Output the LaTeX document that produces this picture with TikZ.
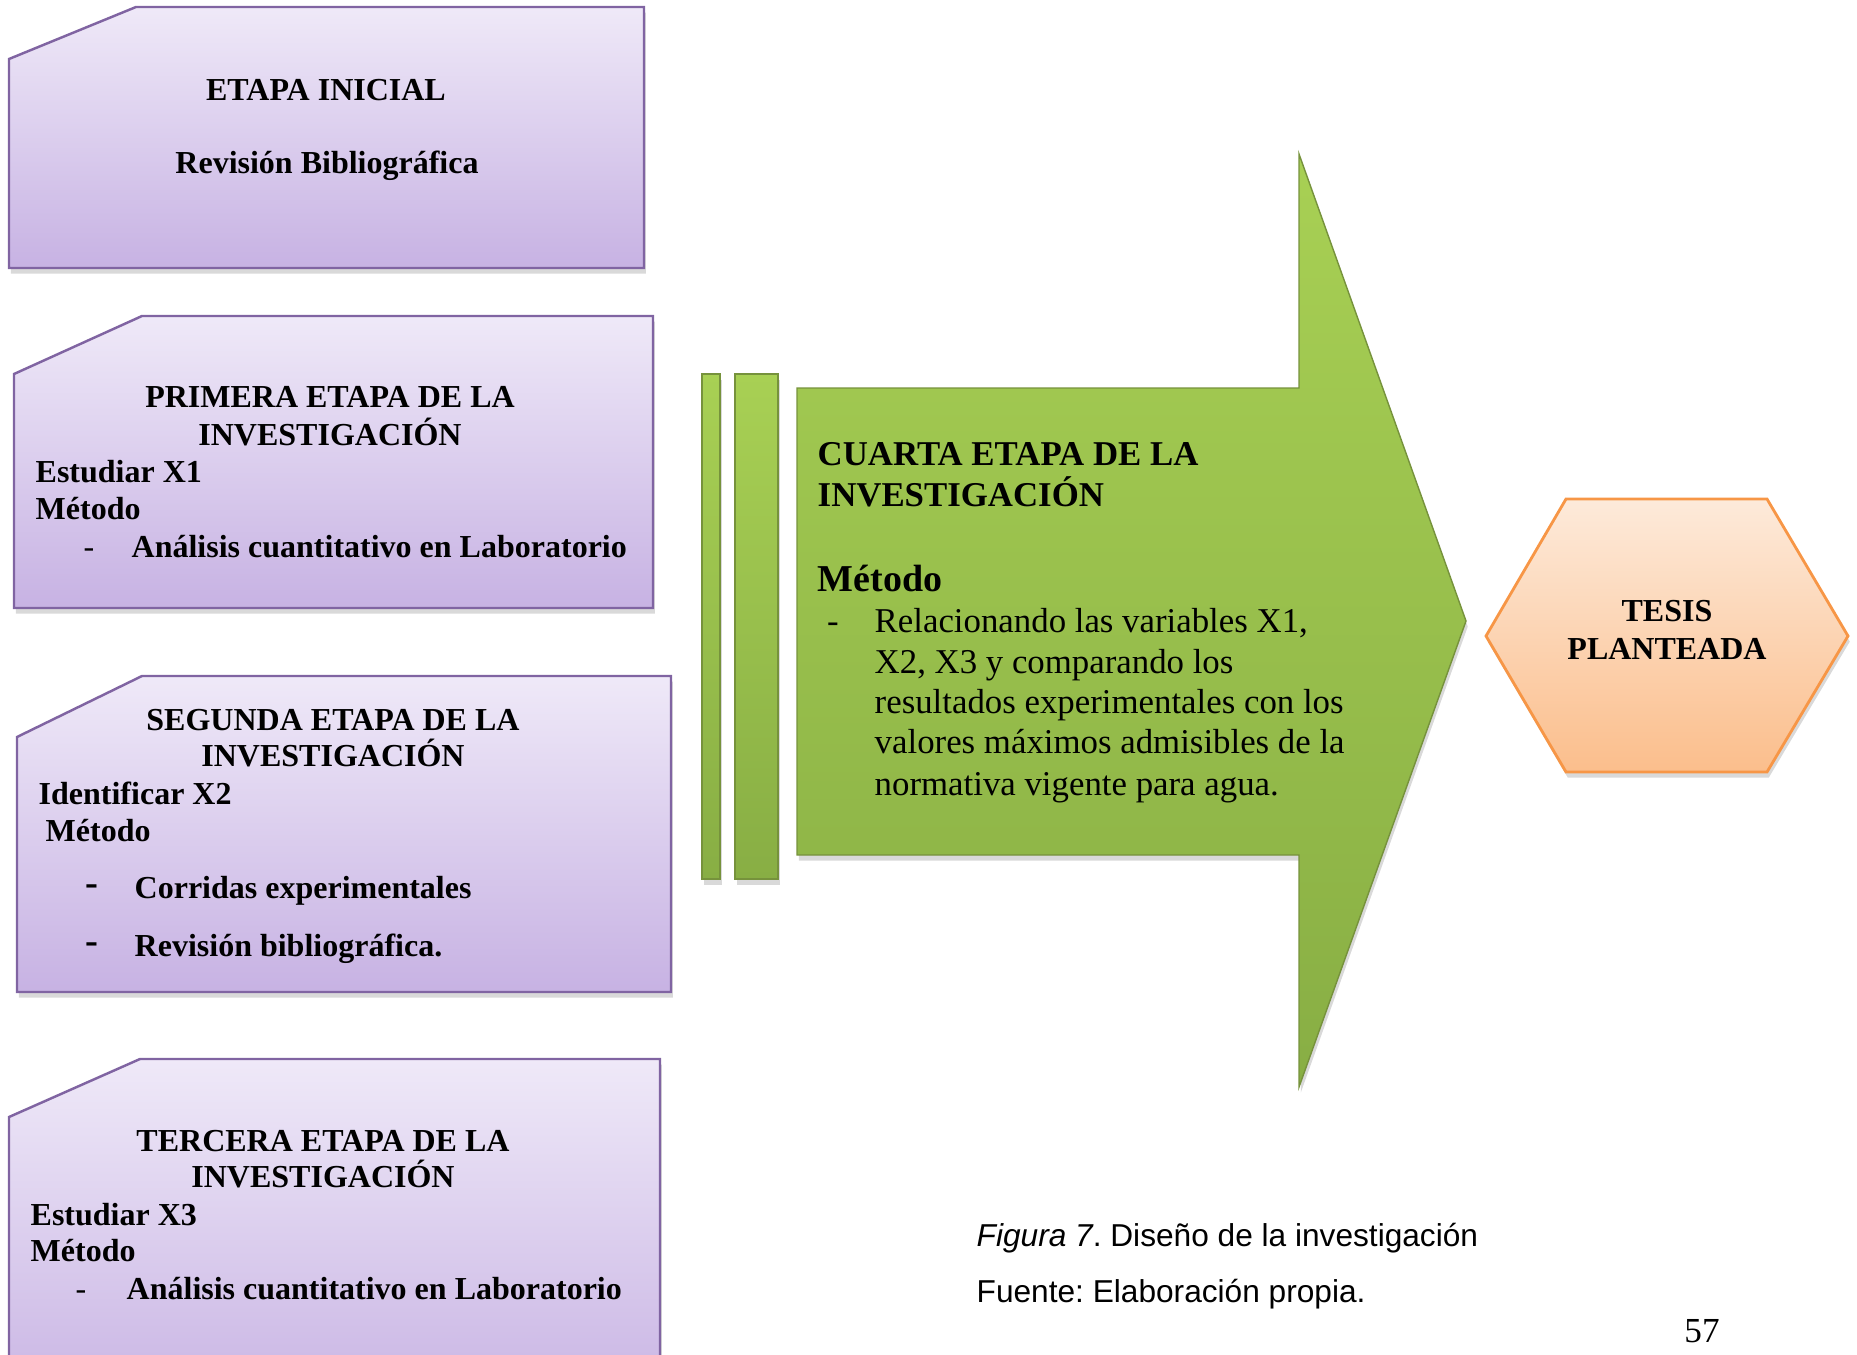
\documentclass[tikz,border=0pt]{standalone}
\usepackage{fontspec}
\setmainfont{Liberation Serif}
\newfontfamily\capsans{Liberation Sans}
\usetikzlibrary{shadows}
\frenchspacing
\definecolor{boxtop}{RGB}{239,233,248}
\definecolor{boxbot}{RGB}{199,178,227}
\definecolor{boxline}{RGB}{128,100,162}
\definecolor{grtop}{RGB}{168,208,84}
\definecolor{grbot}{RGB}{136,174,68}
\definecolor{grline}{RGB}{118,146,60}
\definecolor{hextop}{RGB}{253,234,218}
\definecolor{hexbot}{RGB}{251,190,140}
\definecolor{hexline}{RGB}{247,150,70}
\begin{document}
\begin{tikzpicture}[x=0.01cm,y=-0.01cm,
  softshadow/.style={drop shadow={shadow xshift=0.5pt,shadow yshift=-1.6pt,opacity=0.3}},
  stagebox/.style={draw=boxline,line width=0.7pt,top color=boxtop,bottom color=boxbot,softshadow},
  greenshape/.style={draw=grline,line width=0.4pt,top color=grtop,bottom color=grbot,softshadow},
  hexshape/.style={draw=hexline,line width=0.8pt,top color=hextop,bottom color=hexbot,softshadow},
  bt/.style={inner sep=0pt,font=\fontsize{9.1}{11}\selectfont\bfseries},
  btc/.style={bt,anchor=base},
  btl/.style={bt,anchor=base west},
  arrtxt/.style={inner sep=0pt,anchor=base west,font=\fontsize{9.9}{11.5}\selectfont},
  arrbold/.style={arrtxt,font=\fontsize{9.9}{11.5}\selectfont\bfseries},
  captxt/.style={inner sep=0pt,anchor=base west,font=\capsans\fontsize{9}{11}\selectfont}
]
\useasboundingbox (0,0) rectangle (1857,1354);
\clip (0,0) rectangle (1857,1354);

% stage boxes
\path[stagebox] (9,59) -- (136,7) -- (644,7) -- (644,268) -- (9,268) -- cycle;
\path[stagebox] (14,374) -- (142,316) -- (653,316) -- (653,608) -- (14,608) -- cycle;
\path[stagebox] (17,737) -- (142,676) -- (671,676) -- (671,992) -- (17,992) -- cycle;
\path[stagebox] (9,1117) -- (140,1059) -- (660,1059) -- (660,1420) -- (9,1420) -- cycle;

% green bars and arrow
\path[greenshape] (702,374) rectangle (720,879);
\path[greenshape] (735,374) rectangle (778,879);
\path[greenshape] (797,388) -- (1299,388) -- (1299,154) -- (1466,621) -- (1299,1087) -- (1299,855) -- (797,855) -- cycle;

% hexagon
\path[hexshape] (1486,636) -- (1566,499) -- (1767,499) -- (1848,636) -- (1767,772) -- (1566,772) -- cycle;

% box 1
\node[btc] (b1a) at (326,100) {ETAPA INICIAL};
\node[btc] (b1b) at (327,173) {Revisión Bibliográfica};

% box 2
\node[btc] (b2a) at (330,407) {PRIMERA ETAPA DE LA};
\node[btc] (b2b) at (330,445) {INVESTIGACIÓN};
\node[btl] (b2c) at (35,482) {Estudiar X1};
\node[btl] (b2d) at (35,519) {Método};
\node[inner sep=0pt,anchor=base,font=\fontsize{9.1}{11}\selectfont] (b2e) at (89,557) {-};
\node[btl] (b2f) at (131,557) {Análisis cuantitativo en Laboratorio};

% box 3
\node[btc] (b3a) at (333,730) {SEGUNDA ETAPA DE LA};
\node[btc] (b3b) at (333,766) {INVESTIGACIÓN};
\node[btl] (b3c) at (38,804) {Identificar X2};
\node[btl] (b3d) at (45,841) {Método};
\node[btc,font=\fontsize{11}{12}\selectfont\bfseries] (b3e) at (92,895) {-};
\node[btl] (b3f) at (134,898) {Corridas experimentales};
\node[btc,font=\fontsize{11}{12}\selectfont\bfseries] (b3g) at (92,953) {-};
\node[btl] (b3h) at (134,956) {Revisión bibliográfica.};

% box 4
\node[btc] (b4a) at (323,1151) {TERCERA ETAPA DE LA};
\node[btc] (b4b) at (323,1187) {INVESTIGACIÓN};
\node[btl] (b4c) at (30,1225) {Estudiar X3};
\node[btl] (b4d) at (30,1261) {Método};
\node[inner sep=0pt,anchor=base,font=\fontsize{9.1}{11}\selectfont] (b4e) at (81,1299) {-};
\node[btl] (b4f) at (126,1299) {Análisis cuantitativo en Laboratorio};

% arrow text
\node[arrbold] (a1) at (817,465) {CUARTA ETAPA DE LA};
\node[arrbold] (a2) at (817,506) {INVESTIGACIÓN};
\node[arrtxt,font=\fontsize{10.8}{12}\selectfont\bfseries] (a3) at (817,591) {Método};
\node[inner sep=0pt,anchor=base,font=\fontsize{9.9}{11.5}\selectfont] (a4) at (833,632) {-};
\node[arrtxt] (a5) at (874,632) {Relacionando las variables X1,};
\node[arrtxt] (a6) at (874,673) {X2, X3 y comparando los};
\node[arrtxt] (a7) at (874,713) {resultados experimentales con los};
\node[arrtxt] (a8) at (874,753) {valores máximos admisibles de la};
\node[arrtxt] (a9) at (874,795) {normativa vigente para agua.};

% hexagon text
\node[btc] (h1) at (1667,621) {TESIS};
\node[btc] (h2) at (1667,659) {PLANTEADA};

% caption
\node[captxt] (c1) at (976,1246) {\textit{Figura 7}. Diseño de la investigación};
\node[captxt] (c2) at (976,1302) {Fuente: Elaboración propia.};
\node[inner sep=0pt,anchor=base,font=\fontsize{10}{12}\selectfont] (pg) at (1702,1342) {57};
\end{tikzpicture}
\end{document}
